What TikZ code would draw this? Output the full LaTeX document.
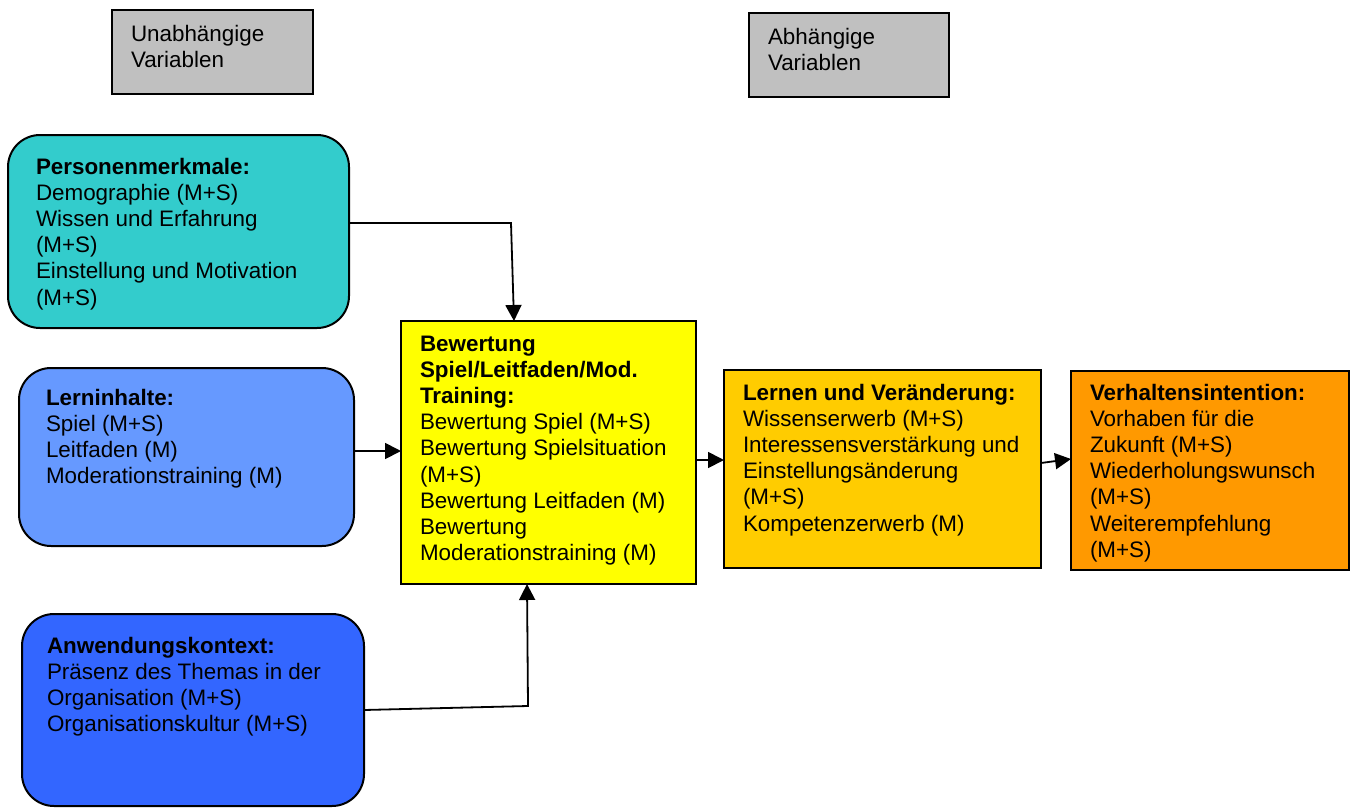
\documentclass[tikz,border=0pt]{standalone}
\usepackage{fontspec}
\setmainfont{Liberation Sans}
\usetikzlibrary{arrows.meta,calc}
\definecolor{cgray}{HTML}{C0C0C0}
\definecolor{cteal}{HTML}{33CCCC}
\definecolor{clblue}{HTML}{6699FF}
\definecolor{cblue}{HTML}{3366FF}
\definecolor{cyel}{HTML}{FFFF00}
\definecolor{cgold}{HTML}{FFCC00}
\definecolor{corange}{HTML}{FF9900}
\tikzset{
  box/.style={draw=black, line width=2pt, inner sep=0pt, outer sep=0pt, anchor=north west},
  rbox/.style={box, rounded corners=32pt},
  txt/.style={inner sep=0pt, outer sep=0pt, anchor=base west, font=\fontsize{22.4}{26.2}\selectfont},
  arr/.style={line width=1.8pt, -{Triangle[length=16pt,width=16pt]}}
}
\begin{document}
\begin{tikzpicture}[x=1pt,y=-1pt]
\useasboundingbox (0,0) rectangle (1353,809);
% boxes
\node[box, fill=cgray, minimum width=201pt, minimum height=84pt] (U) at (112,10) {};
\node[box, fill=cgray, minimum width=200pt, minimum height=84pt] (Ab) at (749,13) {};
\node[rbox, fill=cteal, minimum width=341pt, minimum height=193pt] (P) at (8,135) {};
\node[rbox, fill=clblue, minimum width=335pt, minimum height=178pt] (L) at (19,368) {};
\node[rbox, fill=cblue, minimum width=342pt, minimum height=192pt] (A) at (22,614) {};
\node[box, fill=cyel, minimum width=295pt, minimum height=263pt] (Y) at (401,321) {};
\node[box, fill=cgold, minimum width=317pt, minimum height=198pt] (Le) at (724,370) {};
\node[box, fill=corange, minimum width=278pt, minimum height=199pt] (V) at (1071,371) {};
% texts
\node[txt] (Ut) at ($(U.north west)+(19,31)$) {\begin{tabular}[t]{@{}l@{}}Unabhängige\\Variablen\end{tabular}};
\node[txt] (Abt) at ($(Ab.north west)+(19,31)$) {\begin{tabular}[t]{@{}l@{}}Abhängige\\Variablen\end{tabular}};
\node[txt] (Pt) at ($(P.north west)+(28,39)$) {\begin{tabular}[t]{@{}l@{}}\textbf{Personenmerkmale:}\\Demographie (M+S)\\Wissen und Erfahrung\\(M+S)\\Einstellung und Motivation\\(M+S)\end{tabular}};
\node[txt] (Lt) at ($(L.north west)+(27,37)$) {\begin{tabular}[t]{@{}l@{}}\textbf{Lerninhalte:}\\Spiel (M+S)\\Leitfaden (M)\\Moderationstraining (M)\end{tabular}};
\node[txt] (At) at ($(A.north west)+(25,39)$) {\begin{tabular}[t]{@{}l@{}}\textbf{Anwendungskontext:}\\Präsenz des Themas in der\\Organisation (M+S)\\Organisationskultur (M+S)\end{tabular}};
\node[txt] (Yt) at ($(Y.north west)+(19,30)$) {\begin{tabular}[t]{@{}l@{}}\textbf{Bewertung}\\\textbf{Spiel/Leitfaden/Mod.}\\\textbf{Training:}\\Bewertung Spiel (M+S)\\Bewertung Spielsituation\\(M+S)\\Bewertung Leitfaden (M)\\Bewertung\\Moderationstraining (M)\end{tabular}};
\node[txt] (Let) at ($(Le.north west)+(19,30)$) {\begin{tabular}[t]{@{}l@{}}\textbf{Lernen und Veränderung:}\\Wissenserwerb (M+S)\\Interessensverstärkung und\\Einstellungsänderung\\(M+S)\\Kompetenzerwerb (M)\end{tabular}};
\node[txt] (Vt) at ($(V.north west)+(19,29)$) {\begin{tabular}[t]{@{}l@{}}\textbf{Verhaltensintention:}\\Vorhaben für die\\Zukunft (M+S)\\Wiederholungswunsch\\(M+S)\\Weiterempfehlung\\(M+S)\end{tabular}};
% connectors
\coordinate (c1) at (511,223);
\coordinate (c3) at (380,451);
\coordinate (c4) at (528,706);
\coordinate (c5) at (710,460);
\coordinate (c6) at (1055,463);
\coordinate (c7) at (1055,459);
\draw[arr] (P.east |- c1) -- (c1) -- ($(Y.north west)+(113,0)$);
\draw[arr] (L.east |- c3) -- (Y.west |- c3);
\draw[arr] (A.east) -- (c4) -- ($(Y.south west)+(126,0)$);
\draw[arr] (Y.east |- c5) -- (Le.west |- c5);
\draw[arr] (Le.east |- c6) -- (V.west |- c7);
\end{tikzpicture}
\end{document}
